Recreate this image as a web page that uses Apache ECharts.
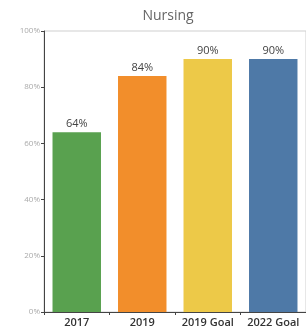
<!DOCTYPE html>
<html>
<head>
<meta charset="utf-8">
<script src="https://cdn.jsdelivr.net/npm/echarts@6/dist/echarts.min.js"></script>
<style>
  html, body { margin: 0; padding: 0; background: #fff; }
  #chart { width: 306px; height: 330px; }
</style>
</head>
<body>
<div id="chart"></div>
<script>
// 数据
const categories = ['2017', '2019', '2019 Goal', '2022 Goal']
const values = [64, 84, 90, 90]
const barColors = ['#59a14f', '#f28e2b', '#edc948', '#4e79a7']
const yTicks = [0, 20, 40, 60, 80, 100]

const chart = echarts.init(document.getElementById('chart'))

chart.setOption({
  animation: false,
  title: {
    text: 'Nursing',
    left: 163,
    top: 4,
    textAlign: 'center',
    textStyle: {
      color: '#666',
      fontSize: 14,
      fontWeight: 'normal',
      fontFamily: '"Open Sans", sans-serif',
    },
  },
  grid: {
    left: 44,
    top: 31,
    width: 267,
    height: 281,
    show: true,
    borderColor: '#cfcfcf',
    borderWidth: 1,
  },
  xAxis: {
    type: 'category',
    data: categories,
    axisLine: { lineStyle: { color: '#444', width: 1 } },
    axisTick: { show: true, length: 3, lineStyle: { color: '#444' } },
    axisLabel: {
      color: '#333',
      fontSize: 11,
      fontFamily: '"Open Sans", sans-serif',
      fontWeight: 600,
      margin: 5,
      interval: 0,
    },
  },
  yAxis: {
    type: 'value',
    min: yTicks[0],
    max: yTicks[yTicks.length - 1],
    interval: 20,
    axisLine: { show: true, lineStyle: { color: '#444', width: 1 } },
    axisTick: { show: true, length: 3, lineStyle: { color: '#444' } },
    splitLine: { show: false },
    axisLabel: {
      color: '#aaa',
      fontSize: 8,
      fontFamily: '"Open Sans", sans-serif',
      margin: 4,
      formatter: v => v + '%',
    },
  },
  series: [{
    type: 'bar',
    data: values.map((v, i) => ({ value: v, itemStyle: { color: barColors[i] } })),
    barCategoryGap: '26%',
    label: {
      show: true,
      position: 'top',
      distance: 3,
      color: '#444',
      fontSize: 11,
      fontFamily: '"Open Sans", sans-serif',
      formatter: p => p.value + '%',
    },
  }],
})
</script>
</body>
</html>
